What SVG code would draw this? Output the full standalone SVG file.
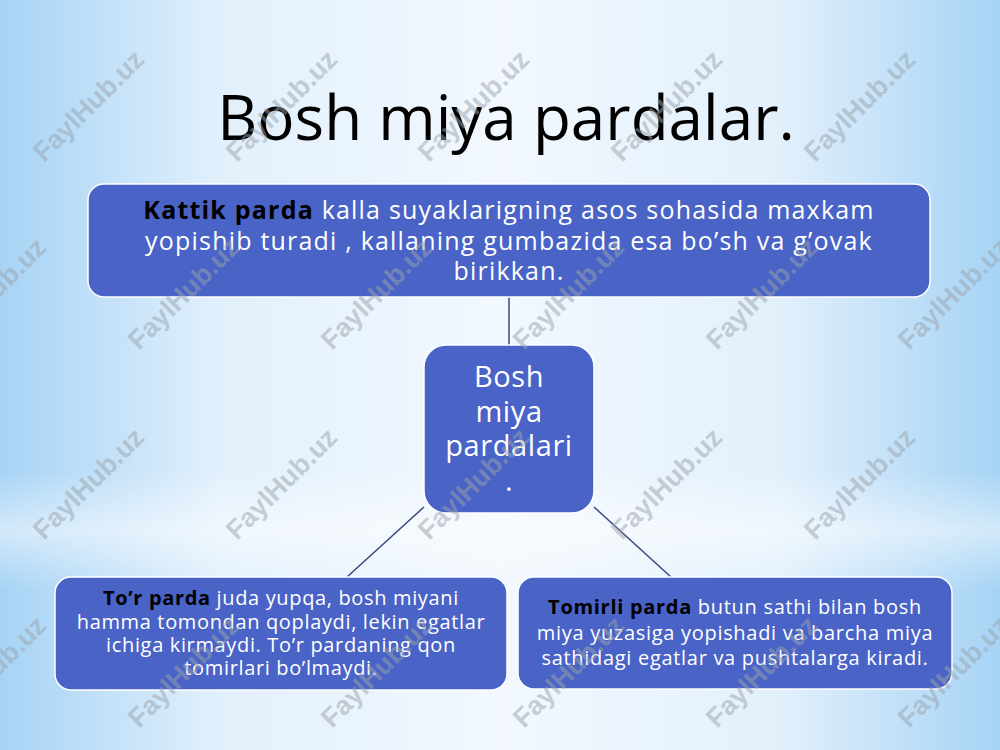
<svg xmlns="http://www.w3.org/2000/svg" width="1000" height="750" viewBox="0 0 1000 750">
<defs>
<linearGradient id="bg" x1="0" y1="0" x2="1" y2="0">
<stop offset="0" stop-color="#a6d3f5"/>
<stop offset="0.22" stop-color="#e2f0fc"/>
<stop offset="0.5" stop-color="#f2f8fe"/>
<stop offset="0.78" stop-color="#e2f0fc"/>
<stop offset="1" stop-color="#a6d3f5"/>
</linearGradient>
<linearGradient id="band" x1="0" y1="0" x2="0" y2="1">
<stop offset="0" stop-color="#ffffff" stop-opacity="0"/>
<stop offset="0.5" stop-color="#ffffff" stop-opacity="0.5"/>
<stop offset="1" stop-color="#ffffff" stop-opacity="0"/>
</linearGradient>
<style>
.box{fill:#4a63c6;stroke:#ffffff;stroke-width:1.5}
.t{font-family:"Open Sans","Noto Sans",sans-serif;fill:#ffffff;text-anchor:middle}
.b{font-weight:bold;fill:#000000}
.wm{font-family:"Liberation Sans",Arial,sans-serif;font-weight:bold;font-size:27px;fill:#9aa3ab;fill-opacity:0.5;text-anchor:middle}
.ln{stroke:#3d4a7e;stroke-width:1.5;fill:none}
</style>
</defs>
<rect width="1000" height="750" fill="url(#bg)"/>
<rect x="0" y="470" width="1000" height="120" fill="url(#band)"/>

<text x="506" y="140" font-family="Open Sans,sans-serif" font-size="62" fill="#000000" text-anchor="middle">Bosh miya pardalar.</text>

<g id="connectors">
<line class="ln" x1="509" y1="297" x2="509" y2="345"/>
<line class="ln" x1="424" y1="507" x2="347" y2="577"/>
<line class="ln" x1="594" y1="507" x2="671" y2="577"/>
</g>

<g id="node-kattik">
<rect class="box" x="88" y="184" width="842" height="113" rx="16"/>
<text class="t" font-size="25" letter-spacing="1.2"><tspan x="509" y="219"><tspan class="b">Kattik parda</tspan> kalla suyaklarigning asos sohasida maxkam</tspan><tspan x="509" y="250">yopishib turadi , kallaning gumbazida esa bo’sh va g’ovak</tspan><tspan x="509" y="280">birikkan.</tspan></text>
</g>

<g id="node-center">
<rect class="box" x="424" y="345" width="170" height="168" rx="22"/>
<text class="t" font-size="29" letter-spacing="0.6"><tspan x="509" y="387">Bosh</tspan><tspan x="509" y="422">miya</tspan><tspan x="509" y="456">pardalari</tspan><tspan x="509" y="491">.</tspan></text>
</g>

<g id="node-tor">
<rect class="box" x="55" y="577" width="452" height="113" rx="16"/>
<text class="t" font-size="20" letter-spacing="0.65"><tspan x="281" y="605"><tspan class="b">To’r parda</tspan> juda yupqa, bosh miyani</tspan><tspan x="281" y="629">hamma tomondan qoplaydi, lekin egatlar</tspan><tspan x="281" y="652">ichiga kirmaydi. To’r pardaning qon</tspan><tspan x="281" y="675">tomirlari bo’lmaydi.</tspan></text>
</g>

<g id="node-tomirli">
<rect class="box" x="518" y="577" width="434" height="112" rx="16"/>
<text class="t" font-size="20" letter-spacing="0.7"><tspan x="735" y="614"><tspan class="b">Tomirli parda</tspan> butun sathi bilan bosh</tspan><tspan x="735" y="640">miya yuzasiga yopishadi va barcha miya</tspan><tspan x="735" y="665">sathidagi egatlar va pushtalarga kiradi.</tspan></text>
</g>

<g id="watermarks">
<text class="wm" transform="translate(95,112) rotate(-45)">FaylHub.uz</text>
<text class="wm" transform="translate(288,112) rotate(-45)">FaylHub.uz</text>
<text class="wm" transform="translate(480,112) rotate(-45)">FaylHub.uz</text>
<text class="wm" transform="translate(673,112) rotate(-45)">FaylHub.uz</text>
<text class="wm" transform="translate(866,112) rotate(-45)">FaylHub.uz</text>
<text class="wm" transform="translate(-3,300) rotate(-45)">FaylHub.uz</text>
<text class="wm" transform="translate(190,300) rotate(-45)">FaylHub.uz</text>
<text class="wm" transform="translate(383,300) rotate(-45)">FaylHub.uz</text>
<text class="wm" transform="translate(575,300) rotate(-45)">FaylHub.uz</text>
<text class="wm" transform="translate(768,300) rotate(-45)">FaylHub.uz</text>
<text class="wm" transform="translate(960,300) rotate(-45)">FaylHub.uz</text>
<text class="wm" transform="translate(95,490) rotate(-45)">FaylHub.uz</text>
<text class="wm" transform="translate(288,490) rotate(-45)">FaylHub.uz</text>
<text class="wm" transform="translate(480,490) rotate(-45)">FaylHub.uz</text>
<text class="wm" transform="translate(673,490) rotate(-45)">FaylHub.uz</text>
<text class="wm" transform="translate(866,490) rotate(-45)">FaylHub.uz</text>
<text class="wm" transform="translate(-3,678) rotate(-45)">FaylHub.uz</text>
<text class="wm" transform="translate(190,678) rotate(-45)">FaylHub.uz</text>
<text class="wm" transform="translate(383,678) rotate(-45)">FaylHub.uz</text>
<text class="wm" transform="translate(575,678) rotate(-45)">FaylHub.uz</text>
<text class="wm" transform="translate(768,678) rotate(-45)">FaylHub.uz</text>
<text class="wm" transform="translate(960,678) rotate(-45)">FaylHub.uz</text>
</g>
</svg>
